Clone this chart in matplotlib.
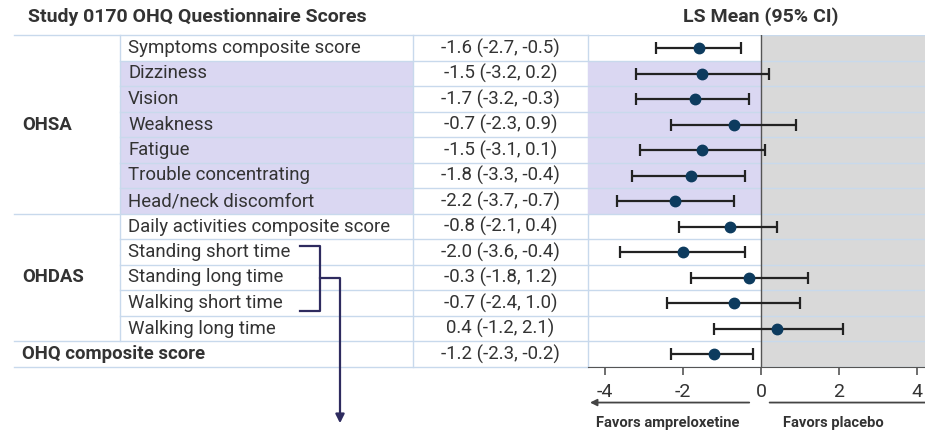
import matplotlib.pyplot as plt

plt.rcParams["font.family"] = ["Roboto", "DejaVu Sans"]

# data
items = ['Symptoms composite score', 'Dizziness', 'Vision', 'Weakness', 'Fatigue',
         'Trouble concentrating', 'Head/neck discomfort',
         'Daily activities composite score', 'Standing short time', 'Standing long time',
         'Walking short time', 'Walking long time', 'OHQ composite score']
groups = ['OHSA'] * 7 + ['OHDAS'] * 5 + ['OHQ']
means = [-1.6, -1.5, -1.7, -0.7, -1.5, -1.8, -2.2, -0.8, -2.0, -0.3, -0.7, 0.4, -1.2]
lower = [-2.7, -3.2, -3.2, -2.3, -3.1, -3.3, -3.7, -2.1, -3.6, -1.8, -2.4, -1.2, -2.3]
upper = [-0.5, 0.2, -0.3, 0.9, 0.1, -0.4, -0.7, 0.4, -0.4, 1.2, 1.0, 2.1, -0.2]
xticks = [-4, -2, 0, 2, 4]
shaded_rows = [1, 2, 3, 4, 5, 6]

# colours
grid_c = '#c8d9ec'
lav = '#dad7f2'
gray_bg = '#d9d9d9'
txt = '#333333'
navy = '#2e2b5f'

W, H = 925, 432
top, rh = 35.25, 25.5
n = len(items)
bottom = top + n * rh
x_grp, x_item, x_val, x_plot = 14, 120, 413, 588
fs = 13.4

fig = plt.figure(figsize=(W / 100, H / 100), dpi=100)
ax = fig.add_axes([0, 0, 1, 1])
ax.set_xlim(0, W)
ax.set_ylim(H, 0)
ax.axis('off')

def ry(i):
    return top + (i + 0.5) * rh

# lavender rows in item column
r0, r1 = shaded_rows[0], shaded_rows[-1]
ax.fill_between([x_item, x_val], top + r0 * rh, top + (r1 + 1) * rh, color=lav, lw=0, zorder=0)

# forest panel
fx = fig.add_axes([x_plot / W, (H - bottom) / H, (W - x_plot) / W, (bottom - top) / H])
fx.set_xlim(-4.43, 4.2)
fx.set_ylim(n - 0.5, -0.5)
fx.patch.set_alpha(0)
fx.axvspan(0, 5, color=gray_bg, lw=0, zorder=0)
fx.fill_between([-5, 0], r0 - 0.5, r1 + 0.5, color=lav, lw=0, zorder=0)
for i in range(n + 1):
    fx.axhline(i - 0.5, color=grid_c, lw=1, zorder=1)
fx.axvline(0, color='#555555', lw=1, zorder=2)
yy = list(range(n))
err = [[m - l for m, l in zip(means, lower)], [u - m for m, u in zip(means, upper)]]
fx.errorbar(means, yy, xerr=err, fmt='o', color='#0d3b5e', ms=7.5,
            ecolor='#222222', elinewidth=1.6, capsize=4, capthick=1.6, zorder=3)
for s in ['top', 'right', 'left']:
    fx.spines[s].set_visible(False)
fx.spines['bottom'].set_color('#555555')
fx.set_yticks([])
fx.set_xticks(xticks)
fx.set_xticklabels([str(t) for t in xticks], fontsize=14, color=txt)
fx.tick_params(axis='x', length=6, width=1.2, color='#555555', pad=6)

# arrows under the axis
tr = fx.get_xaxis_transform()
fx.annotate('', xy=(-4.45, -0.108), xytext=(-0.23, -0.108), xycoords=tr,
            arrowprops=dict(arrowstyle='-|>', color='#444444', lw=1.3, mutation_scale=10),
            annotation_clip=False)
fx.annotate('', xy=(4.3, -0.108), xytext=(0.15, -0.108), xycoords=tr,
            arrowprops=dict(arrowstyle='-', color='#444444', lw=1.3),
            annotation_clip=False)
fx.text(-2.4, -0.17, 'Favors ampreloxetine', transform=tr, ha='center', va='center',
        fontsize=10.6, fontweight='bold', color=txt)
fx.text(1.85, -0.17, 'Favors placebo', transform=tr, ha='center', va='center',
        fontsize=10.6, fontweight='bold', color=txt)

# table grid lines
group_end = [0, 7, 12, 13]
for i in range(n + 1):
    x0 = x_grp if i in group_end else x_item
    ax.plot([x0, x_plot], [top + i * rh] * 2, color=grid_c, lw=1, zorder=1)
ax.plot([x_item, x_item], [top, top + 12 * rh], color=grid_c, lw=1)
ax.plot([x_val, x_val], [top, bottom], color=grid_c, lw=1)
ax.plot([x_plot, x_plot], [top, bottom], color=grid_c, lw=1)

# texts
ax.text(28, 17, 'Study 0170 OHQ Questionnaire Scores', fontsize=14, fontweight='bold',
        color=txt, va='center')
ax.text(761, 17, 'LS Mean (95% CI)', fontsize=14, fontweight='bold', color=txt,
        va='center', ha='center')
for i, (name, g) in enumerate(zip(items, groups)):
    if g == 'OHQ':
        ax.text(22, ry(i), name, fontsize=fs, fontweight='bold', color=txt, va='center')
    else:
        ax.text(128, ry(i), name, fontsize=fs, color=txt, va='center')
    ax.text((x_val + x_plot) / 2, ry(i), f'{means[i]} ({lower[i]}, {upper[i]})',
            fontsize=fs, color=txt, va='center', ha='center')
ax.text(22, ry(3), 'OHSA', fontsize=fs, fontweight='bold', color=txt, va='center')
ax.text(22, ry(9), 'OHDAS', fontsize=fs, fontweight='bold', color=txt, va='center')

# bracket joining the three standing/walking rows
ax.plot([300, 320, 320, 300], [ry(8) - 6, ry(8) - 6, ry(10) + 8, ry(10) + 8], color=navy, lw=1.6)
ax.plot([320, 340, 340], [ry(9), ry(9), 418], color=navy, lw=1.6)
ax.annotate('', xy=(340, 426), xytext=(340, 414),
            arrowprops=dict(arrowstyle='-|>', color=navy, lw=1.6, mutation_scale=13))

fig.savefig('out.png', dpi=100)
